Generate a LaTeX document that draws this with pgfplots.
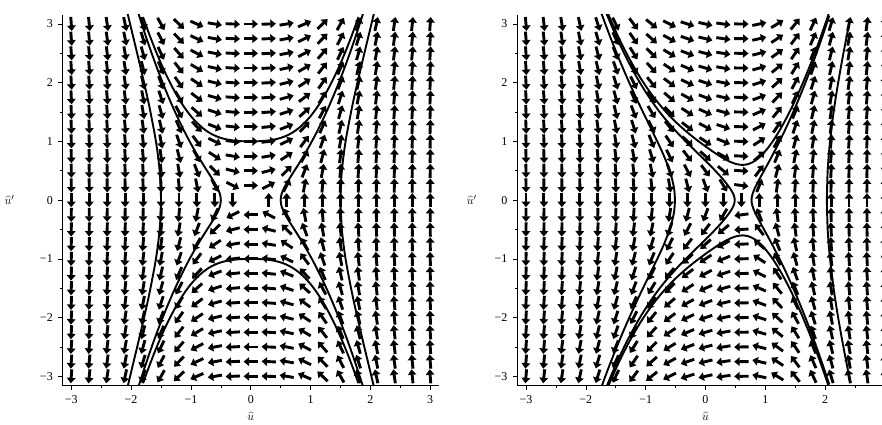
\documentclass[border=0pt]{standalone}
\usepackage{pgfplots}
\pgfplotsset{compat=1.18}
\usepackage{pgfplotstable}
\usepackage{fontspec}
\setmainfont{Liberation Serif}
\usetikzlibrary{arrows.meta}

% direction field, left panel: grid point (x,y) and slope term F; arrow = (y,F) normalised
\pgfplotstableread[row sep=\\]{
x y F\\
-3 -3 -40.62\\ -3 -2.75 -40.62\\ -3 -2.5 -40.62\\ -3 -2.25 -40.62\\ -3 -2 -40.62\\ -3 -1.75 -40.62\\ -3 -1.5 -40.62\\ -3 -1.25 -40.62\\ -3 -1 -40.62\\ -3 -0.75 -40.62\\ -3 -0.5 -40.62\\ -3 -0.25 -40.62\\ -3 0 -40.62\\ -3 0.25 -40.62\\ -3 0.5 -40.62\\ -3 0.75 -40.62\\ -3 1 -40.62\\ -3 1.25 -40.62\\ -3 1.5 -40.62\\ -3 1.75 -40.62\\ -3 2 -40.62\\ -3 2.25 -40.62\\ -3 2.5 -40.62\\ -3 2.75 -40.62\\ -3 3 -40.62\\
-2.7 -3 -29.77\\ -2.7 -2.75 -29.77\\ -2.7 -2.5 -29.77\\ -2.7 -2.25 -29.77\\ -2.7 -2 -29.77\\ -2.7 -1.75 -29.77\\ -2.7 -1.5 -29.77\\ -2.7 -1.25 -29.77\\ -2.7 -1 -29.77\\ -2.7 -0.75 -29.77\\ -2.7 -0.5 -29.77\\ -2.7 -0.25 -29.77\\ -2.7 0 -29.77\\ -2.7 0.25 -29.77\\ -2.7 0.5 -29.77\\ -2.7 0.75 -29.77\\ -2.7 1 -29.77\\ -2.7 1.25 -29.77\\ -2.7 1.5 -29.77\\ -2.7 1.75 -29.77\\ -2.7 2 -29.77\\ -2.7 2.25 -29.77\\ -2.7 2.5 -29.77\\ -2.7 2.75 -29.77\\ -2.7 3 -29.77\\
-2.4 -3 -21.07\\ -2.4 -2.75 -21.07\\ -2.4 -2.5 -21.07\\ -2.4 -2.25 -21.07\\ -2.4 -2 -21.07\\ -2.4 -1.75 -21.07\\ -2.4 -1.5 -21.07\\ -2.4 -1.25 -21.07\\ -2.4 -1 -21.07\\ -2.4 -0.75 -21.07\\ -2.4 -0.5 -21.07\\ -2.4 -0.25 -21.07\\ -2.4 0 -21.07\\ -2.4 0.25 -21.07\\ -2.4 0.5 -21.07\\ -2.4 0.75 -21.07\\ -2.4 1 -21.07\\ -2.4 1.25 -21.07\\ -2.4 1.5 -21.07\\ -2.4 1.75 -21.07\\ -2.4 2 -21.07\\ -2.4 2.25 -21.07\\ -2.4 2.5 -21.07\\ -2.4 2.75 -21.07\\ -2.4 3 -21.07\\
-2.1 -3 -14.27\\ -2.1 -2.75 -14.27\\ -2.1 -2.5 -14.27\\ -2.1 -2.25 -14.27\\ -2.1 -2 -14.27\\ -2.1 -1.75 -14.27\\ -2.1 -1.5 -14.27\\ -2.1 -1.25 -14.27\\ -2.1 -1 -14.27\\ -2.1 -0.75 -14.27\\ -2.1 -0.5 -14.27\\ -2.1 -0.25 -14.27\\ -2.1 0 -14.27\\ -2.1 0.25 -14.27\\ -2.1 0.5 -14.27\\ -2.1 0.75 -14.27\\ -2.1 1 -14.27\\ -2.1 1.25 -14.27\\ -2.1 1.5 -14.27\\ -2.1 1.75 -14.27\\ -2.1 2 -14.27\\ -2.1 2.25 -14.27\\ -2.1 2.5 -14.27\\ -2.1 2.75 -14.27\\ -2.1 3 -14.27\\
-1.8 -3 -9.13\\ -1.8 -2.75 -9.13\\ -1.8 -2.5 -9.13\\ -1.8 -2.25 -9.13\\ -1.8 -2 -9.13\\ -1.8 -1.75 -9.13\\ -1.8 -1.5 -9.13\\ -1.8 -1.25 -9.13\\ -1.8 -1 -9.13\\ -1.8 -0.75 -9.13\\ -1.8 -0.5 -9.13\\ -1.8 -0.25 -9.13\\ -1.8 0 -9.13\\ -1.8 0.25 -9.13\\ -1.8 0.5 -9.13\\ -1.8 0.75 -9.13\\ -1.8 1 -9.13\\ -1.8 1.25 -9.13\\ -1.8 1.5 -9.13\\ -1.8 1.75 -9.13\\ -1.8 2 -9.13\\ -1.8 2.25 -9.13\\ -1.8 2.5 -9.13\\ -1.8 2.75 -9.13\\ -1.8 3 -9.13\\
-1.5 -3 -5.43\\ -1.5 -2.75 -5.43\\ -1.5 -2.5 -5.43\\ -1.5 -2.25 -5.43\\ -1.5 -2 -5.43\\ -1.5 -1.75 -5.43\\ -1.5 -1.5 -5.43\\ -1.5 -1.25 -5.43\\ -1.5 -1 -5.43\\ -1.5 -0.75 -5.43\\ -1.5 -0.5 -5.43\\ -1.5 -0.25 -5.43\\ -1.5 0 -5.43\\ -1.5 0.25 -5.43\\ -1.5 0.5 -5.43\\ -1.5 0.75 -5.43\\ -1.5 1 -5.43\\ -1.5 1.25 -5.43\\ -1.5 1.5 -5.43\\ -1.5 1.75 -5.43\\ -1.5 2 -5.43\\ -1.5 2.25 -5.43\\ -1.5 2.5 -5.43\\ -1.5 2.75 -5.43\\ -1.5 3 -5.43\\
-1.2 -3 -2.91\\ -1.2 -2.75 -2.91\\ -1.2 -2.5 -2.91\\ -1.2 -2.25 -2.91\\ -1.2 -2 -2.91\\ -1.2 -1.75 -2.91\\ -1.2 -1.5 -2.91\\ -1.2 -1.25 -2.91\\ -1.2 -1 -2.91\\ -1.2 -0.75 -2.91\\ -1.2 -0.5 -2.91\\ -1.2 -0.25 -2.91\\ -1.2 0 -2.91\\ -1.2 0.25 -2.91\\ -1.2 0.5 -2.91\\ -1.2 0.75 -2.91\\ -1.2 1 -2.91\\ -1.2 1.25 -2.91\\ -1.2 1.5 -2.91\\ -1.2 1.75 -2.91\\ -1.2 2 -2.91\\ -1.2 2.25 -2.91\\ -1.2 2.5 -2.91\\ -1.2 2.75 -2.91\\ -1.2 3 -2.91\\
-0.9 -3 -1.35\\ -0.9 -2.75 -1.35\\ -0.9 -2.5 -1.35\\ -0.9 -2.25 -1.35\\ -0.9 -2 -1.35\\ -0.9 -1.75 -1.35\\ -0.9 -1.5 -1.35\\ -0.9 -1.25 -1.35\\ -0.9 -1 -1.35\\ -0.9 -0.75 -1.35\\ -0.9 -0.5 -1.35\\ -0.9 -0.25 -1.35\\ -0.9 0 -1.35\\ -0.9 0.25 -1.35\\ -0.9 0.5 -1.35\\ -0.9 0.75 -1.35\\ -0.9 1 -1.35\\ -0.9 1.25 -1.35\\ -0.9 1.5 -1.35\\ -0.9 1.75 -1.35\\ -0.9 2 -1.35\\ -0.9 2.25 -1.35\\ -0.9 2.5 -1.35\\ -0.9 2.75 -1.35\\ -0.9 3 -1.35\\
-0.6 -3 -0.5\\ -0.6 -2.75 -0.5\\ -0.6 -2.5 -0.5\\ -0.6 -2.25 -0.5\\ -0.6 -2 -0.5\\ -0.6 -1.75 -0.5\\ -0.6 -1.5 -0.5\\ -0.6 -1.25 -0.5\\ -0.6 -1 -0.5\\ -0.6 -0.75 -0.5\\ -0.6 -0.5 -0.5\\ -0.6 -0.25 -0.5\\ -0.6 0 -0.5\\ -0.6 0.25 -0.5\\ -0.6 0.5 -0.5\\ -0.6 0.75 -0.5\\ -0.6 1 -0.5\\ -0.6 1.25 -0.5\\ -0.6 1.5 -0.5\\ -0.6 1.75 -0.5\\ -0.6 2 -0.5\\ -0.6 2.25 -0.5\\ -0.6 2.5 -0.5\\ -0.6 2.75 -0.5\\ -0.6 3 -0.5\\
-0.3 -3 -0.13\\ -0.3 -2.75 -0.13\\ -0.3 -2.5 -0.13\\ -0.3 -2.25 -0.13\\ -0.3 -2 -0.13\\ -0.3 -1.75 -0.13\\ -0.3 -1.5 -0.13\\ -0.3 -1.25 -0.13\\ -0.3 -1 -0.13\\ -0.3 -0.75 -0.13\\ -0.3 -0.5 -0.13\\ -0.3 -0.25 -0.13\\ -0.3 0 -0.13\\ -0.3 0.25 -0.13\\ -0.3 0.5 -0.13\\ -0.3 0.75 -0.13\\ -0.3 1 -0.13\\ -0.3 1.25 -0.13\\ -0.3 1.5 -0.13\\ -0.3 1.75 -0.13\\ -0.3 2 -0.13\\ -0.3 2.25 -0.13\\ -0.3 2.5 -0.13\\ -0.3 2.75 -0.13\\ -0.3 3 -0.13\\
0 -3 0\\ 0 -2.75 0\\ 0 -2.5 0\\ 0 -2.25 0\\ 0 -2 0\\ 0 -1.75 0\\ 0 -1.5 0\\ 0 -1.25 0\\ 0 -1 0\\ 0 -0.75 0\\ 0 -0.5 0\\ 0 -0.25 0\\ 0 0.25 0\\ 0 0.5 0\\ 0 0.75 0\\ 0 1 0\\ 0 1.25 0\\ 0 1.5 0\\ 0 1.75 0\\ 0 2 0\\ 0 2.25 0\\ 0 2.5 0\\ 0 2.75 0\\ 0 3 0\\
0.3 -3 0.13\\ 0.3 -2.75 0.13\\ 0.3 -2.5 0.13\\ 0.3 -2.25 0.13\\ 0.3 -2 0.13\\ 0.3 -1.75 0.13\\ 0.3 -1.5 0.13\\ 0.3 -1.25 0.13\\ 0.3 -1 0.13\\ 0.3 -0.75 0.13\\ 0.3 -0.5 0.13\\ 0.3 -0.25 0.13\\ 0.3 0 0.13\\ 0.3 0.25 0.13\\ 0.3 0.5 0.13\\ 0.3 0.75 0.13\\ 0.3 1 0.13\\ 0.3 1.25 0.13\\ 0.3 1.5 0.13\\ 0.3 1.75 0.13\\ 0.3 2 0.13\\ 0.3 2.25 0.13\\ 0.3 2.5 0.13\\ 0.3 2.75 0.13\\ 0.3 3 0.13\\
0.6 -3 0.5\\ 0.6 -2.75 0.5\\ 0.6 -2.5 0.5\\ 0.6 -2.25 0.5\\ 0.6 -2 0.5\\ 0.6 -1.75 0.5\\ 0.6 -1.5 0.5\\ 0.6 -1.25 0.5\\ 0.6 -1 0.5\\ 0.6 -0.75 0.5\\ 0.6 -0.5 0.5\\ 0.6 -0.25 0.5\\ 0.6 0 0.5\\ 0.6 0.25 0.5\\ 0.6 0.5 0.5\\ 0.6 0.75 0.5\\ 0.6 1 0.5\\ 0.6 1.25 0.5\\ 0.6 1.5 0.5\\ 0.6 1.75 0.5\\ 0.6 2 0.5\\ 0.6 2.25 0.5\\ 0.6 2.5 0.5\\ 0.6 2.75 0.5\\ 0.6 3 0.5\\
0.9 -3 1.35\\ 0.9 -2.75 1.35\\ 0.9 -2.5 1.35\\ 0.9 -2.25 1.35\\ 0.9 -2 1.35\\ 0.9 -1.75 1.35\\ 0.9 -1.5 1.35\\ 0.9 -1.25 1.35\\ 0.9 -1 1.35\\ 0.9 -0.75 1.35\\ 0.9 -0.5 1.35\\ 0.9 -0.25 1.35\\ 0.9 0 1.35\\ 0.9 0.25 1.35\\ 0.9 0.5 1.35\\ 0.9 0.75 1.35\\ 0.9 1 1.35\\ 0.9 1.25 1.35\\ 0.9 1.5 1.35\\ 0.9 1.75 1.35\\ 0.9 2 1.35\\ 0.9 2.25 1.35\\ 0.9 2.5 1.35\\ 0.9 2.75 1.35\\ 0.9 3 1.35\\
1.2 -3 2.91\\ 1.2 -2.75 2.91\\ 1.2 -2.5 2.91\\ 1.2 -2.25 2.91\\ 1.2 -2 2.91\\ 1.2 -1.75 2.91\\ 1.2 -1.5 2.91\\ 1.2 -1.25 2.91\\ 1.2 -1 2.91\\ 1.2 -0.75 2.91\\ 1.2 -0.5 2.91\\ 1.2 -0.25 2.91\\ 1.2 0 2.91\\ 1.2 0.25 2.91\\ 1.2 0.5 2.91\\ 1.2 0.75 2.91\\ 1.2 1 2.91\\ 1.2 1.25 2.91\\ 1.2 1.5 2.91\\ 1.2 1.75 2.91\\ 1.2 2 2.91\\ 1.2 2.25 2.91\\ 1.2 2.5 2.91\\ 1.2 2.75 2.91\\ 1.2 3 2.91\\
1.5 -3 5.43\\ 1.5 -2.75 5.43\\ 1.5 -2.5 5.43\\ 1.5 -2.25 5.43\\ 1.5 -2 5.43\\ 1.5 -1.75 5.43\\ 1.5 -1.5 5.43\\ 1.5 -1.25 5.43\\ 1.5 -1 5.43\\ 1.5 -0.75 5.43\\ 1.5 -0.5 5.43\\ 1.5 -0.25 5.43\\ 1.5 0 5.43\\ 1.5 0.25 5.43\\ 1.5 0.5 5.43\\ 1.5 0.75 5.43\\ 1.5 1 5.43\\ 1.5 1.25 5.43\\ 1.5 1.5 5.43\\ 1.5 1.75 5.43\\ 1.5 2 5.43\\ 1.5 2.25 5.43\\ 1.5 2.5 5.43\\ 1.5 2.75 5.43\\ 1.5 3 5.43\\
1.8 -3 9.13\\ 1.8 -2.75 9.13\\ 1.8 -2.5 9.13\\ 1.8 -2.25 9.13\\ 1.8 -2 9.13\\ 1.8 -1.75 9.13\\ 1.8 -1.5 9.13\\ 1.8 -1.25 9.13\\ 1.8 -1 9.13\\ 1.8 -0.75 9.13\\ 1.8 -0.5 9.13\\ 1.8 -0.25 9.13\\ 1.8 0 9.13\\ 1.8 0.25 9.13\\ 1.8 0.5 9.13\\ 1.8 0.75 9.13\\ 1.8 1 9.13\\ 1.8 1.25 9.13\\ 1.8 1.5 9.13\\ 1.8 1.75 9.13\\ 1.8 2 9.13\\ 1.8 2.25 9.13\\ 1.8 2.5 9.13\\ 1.8 2.75 9.13\\ 1.8 3 9.13\\
2.1 -3 14.27\\ 2.1 -2.75 14.27\\ 2.1 -2.5 14.27\\ 2.1 -2.25 14.27\\ 2.1 -2 14.27\\ 2.1 -1.75 14.27\\ 2.1 -1.5 14.27\\ 2.1 -1.25 14.27\\ 2.1 -1 14.27\\ 2.1 -0.75 14.27\\ 2.1 -0.5 14.27\\ 2.1 -0.25 14.27\\ 2.1 0 14.27\\ 2.1 0.25 14.27\\ 2.1 0.5 14.27\\ 2.1 0.75 14.27\\ 2.1 1 14.27\\ 2.1 1.25 14.27\\ 2.1 1.5 14.27\\ 2.1 1.75 14.27\\ 2.1 2 14.27\\ 2.1 2.25 14.27\\ 2.1 2.5 14.27\\ 2.1 2.75 14.27\\ 2.1 3 14.27\\
2.4 -3 21.07\\ 2.4 -2.75 21.07\\ 2.4 -2.5 21.07\\ 2.4 -2.25 21.07\\ 2.4 -2 21.07\\ 2.4 -1.75 21.07\\ 2.4 -1.5 21.07\\ 2.4 -1.25 21.07\\ 2.4 -1 21.07\\ 2.4 -0.75 21.07\\ 2.4 -0.5 21.07\\ 2.4 -0.25 21.07\\ 2.4 0 21.07\\ 2.4 0.25 21.07\\ 2.4 0.5 21.07\\ 2.4 0.75 21.07\\ 2.4 1 21.07\\ 2.4 1.25 21.07\\ 2.4 1.5 21.07\\ 2.4 1.75 21.07\\ 2.4 2 21.07\\ 2.4 2.25 21.07\\ 2.4 2.5 21.07\\ 2.4 2.75 21.07\\ 2.4 3 21.07\\
2.7 -3 29.77\\ 2.7 -2.75 29.77\\ 2.7 -2.5 29.77\\ 2.7 -2.25 29.77\\ 2.7 -2 29.77\\ 2.7 -1.75 29.77\\ 2.7 -1.5 29.77\\ 2.7 -1.25 29.77\\ 2.7 -1 29.77\\ 2.7 -0.75 29.77\\ 2.7 -0.5 29.77\\ 2.7 -0.25 29.77\\ 2.7 0 29.77\\ 2.7 0.25 29.77\\ 2.7 0.5 29.77\\ 2.7 0.75 29.77\\ 2.7 1 29.77\\ 2.7 1.25 29.77\\ 2.7 1.5 29.77\\ 2.7 1.75 29.77\\ 2.7 2 29.77\\ 2.7 2.25 29.77\\ 2.7 2.5 29.77\\ 2.7 2.75 29.77\\ 2.7 3 29.77\\
3 -3 40.62\\ 3 -2.75 40.62\\ 3 -2.5 40.62\\ 3 -2.25 40.62\\ 3 -2 40.62\\ 3 -1.75 40.62\\ 3 -1.5 40.62\\ 3 -1.25 40.62\\ 3 -1 40.62\\ 3 -0.75 40.62\\ 3 -0.5 40.62\\ 3 -0.25 40.62\\ 3 0 40.62\\ 3 0.25 40.62\\ 3 0.5 40.62\\ 3 0.75 40.62\\ 3 1 40.62\\ 3 1.25 40.62\\ 3 1.5 40.62\\ 3 1.75 40.62\\ 3 2 40.62\\ 3 2.25 40.62\\ 3 2.5 40.62\\ 3 2.75 40.62\\ 3 3 40.62\\
}\fieldL

% direction field, right panel
\pgfplotstableread[row sep=\\]{
x y F\\
-3 -3 -36.42\\ -3 -2.75 -36.42\\ -3 -2.5 -36.42\\ -3 -2.25 -36.42\\ -3 -2 -36.42\\ -3 -1.75 -36.42\\ -3 -1.5 -36.42\\ -3 -1.25 -36.42\\ -3 -1 -36.42\\ -3 -0.75 -36.42\\ -3 -0.5 -36.42\\ -3 -0.25 -36.42\\ -3 0 -36.42\\ -3 0.25 -36.42\\ -3 0.5 -36.42\\ -3 0.75 -36.42\\ -3 1 -36.42\\ -3 1.25 -36.42\\ -3 1.5 -36.42\\ -3 1.75 -36.42\\ -3 2 -36.42\\ -3 2.25 -36.42\\ -3 2.5 -36.42\\ -3 2.75 -36.42\\ -3 3 -36.42\\
-2.7 -3 -27.38\\ -2.7 -2.75 -27.38\\ -2.7 -2.5 -27.38\\ -2.7 -2.25 -27.38\\ -2.7 -2 -27.38\\ -2.7 -1.75 -27.38\\ -2.7 -1.5 -27.38\\ -2.7 -1.25 -27.38\\ -2.7 -1 -27.38\\ -2.7 -0.75 -27.38\\ -2.7 -0.5 -27.38\\ -2.7 -0.25 -27.38\\ -2.7 0 -27.38\\ -2.7 0.25 -27.38\\ -2.7 0.5 -27.38\\ -2.7 0.75 -27.38\\ -2.7 1 -27.38\\ -2.7 1.25 -27.38\\ -2.7 1.5 -27.38\\ -2.7 1.75 -27.38\\ -2.7 2 -27.38\\ -2.7 2.25 -27.38\\ -2.7 2.5 -27.38\\ -2.7 2.75 -27.38\\ -2.7 3 -27.38\\
-2.4 -3 -20.04\\ -2.4 -2.75 -20.04\\ -2.4 -2.5 -20.04\\ -2.4 -2.25 -20.04\\ -2.4 -2 -20.04\\ -2.4 -1.75 -20.04\\ -2.4 -1.5 -20.04\\ -2.4 -1.25 -20.04\\ -2.4 -1 -20.04\\ -2.4 -0.75 -20.04\\ -2.4 -0.5 -20.04\\ -2.4 -0.25 -20.04\\ -2.4 0 -20.04\\ -2.4 0.25 -20.04\\ -2.4 0.5 -20.04\\ -2.4 0.75 -20.04\\ -2.4 1 -20.04\\ -2.4 1.25 -20.04\\ -2.4 1.5 -20.04\\ -2.4 1.75 -20.04\\ -2.4 2 -20.04\\ -2.4 2.25 -20.04\\ -2.4 2.5 -20.04\\ -2.4 2.75 -20.04\\ -2.4 3 -20.04\\
-2.1 -3 -14.22\\ -2.1 -2.75 -14.22\\ -2.1 -2.5 -14.22\\ -2.1 -2.25 -14.22\\ -2.1 -2 -14.22\\ -2.1 -1.75 -14.22\\ -2.1 -1.5 -14.22\\ -2.1 -1.25 -14.22\\ -2.1 -1 -14.22\\ -2.1 -0.75 -14.22\\ -2.1 -0.5 -14.22\\ -2.1 -0.25 -14.22\\ -2.1 0 -14.22\\ -2.1 0.25 -14.22\\ -2.1 0.5 -14.22\\ -2.1 0.75 -14.22\\ -2.1 1 -14.22\\ -2.1 1.25 -14.22\\ -2.1 1.5 -14.22\\ -2.1 1.75 -14.22\\ -2.1 2 -14.22\\ -2.1 2.25 -14.22\\ -2.1 2.5 -14.22\\ -2.1 2.75 -14.22\\ -2.1 3 -14.22\\
-1.8 -3 -9.74\\ -1.8 -2.75 -9.74\\ -1.8 -2.5 -9.74\\ -1.8 -2.25 -9.74\\ -1.8 -2 -9.74\\ -1.8 -1.75 -9.74\\ -1.8 -1.5 -9.74\\ -1.8 -1.25 -9.74\\ -1.8 -1 -9.74\\ -1.8 -0.75 -9.74\\ -1.8 -0.5 -9.74\\ -1.8 -0.25 -9.74\\ -1.8 0 -9.74\\ -1.8 0.25 -9.74\\ -1.8 0.5 -9.74\\ -1.8 0.75 -9.74\\ -1.8 1 -9.74\\ -1.8 1.25 -9.74\\ -1.8 1.5 -9.74\\ -1.8 1.75 -9.74\\ -1.8 2 -9.74\\ -1.8 2.25 -9.74\\ -1.8 2.5 -9.74\\ -1.8 2.75 -9.74\\ -1.8 3 -9.74\\
-1.5 -3 -6.42\\ -1.5 -2.75 -6.42\\ -1.5 -2.5 -6.42\\ -1.5 -2.25 -6.42\\ -1.5 -2 -6.42\\ -1.5 -1.75 -6.42\\ -1.5 -1.5 -6.42\\ -1.5 -1.25 -6.42\\ -1.5 -1 -6.42\\ -1.5 -0.75 -6.42\\ -1.5 -0.5 -6.42\\ -1.5 -0.25 -6.42\\ -1.5 0 -6.42\\ -1.5 0.25 -6.42\\ -1.5 0.5 -6.42\\ -1.5 0.75 -6.42\\ -1.5 1 -6.42\\ -1.5 1.25 -6.42\\ -1.5 1.5 -6.42\\ -1.5 1.75 -6.42\\ -1.5 2 -6.42\\ -1.5 2.25 -6.42\\ -1.5 2.5 -6.42\\ -1.5 2.75 -6.42\\ -1.5 3 -6.42\\
-1.2 -3 -4.06\\ -1.2 -2.75 -4.06\\ -1.2 -2.5 -4.06\\ -1.2 -2.25 -4.06\\ -1.2 -2 -4.06\\ -1.2 -1.75 -4.06\\ -1.2 -1.5 -4.06\\ -1.2 -1.25 -4.06\\ -1.2 -1 -4.06\\ -1.2 -0.75 -4.06\\ -1.2 -0.5 -4.06\\ -1.2 -0.25 -4.06\\ -1.2 0 -4.06\\ -1.2 0.25 -4.06\\ -1.2 0.5 -4.06\\ -1.2 0.75 -4.06\\ -1.2 1 -4.06\\ -1.2 1.25 -4.06\\ -1.2 1.5 -4.06\\ -1.2 1.75 -4.06\\ -1.2 2 -4.06\\ -1.2 2.25 -4.06\\ -1.2 2.5 -4.06\\ -1.2 2.75 -4.06\\ -1.2 3 -4.06\\
-0.9 -3 -2.49\\ -0.9 -2.75 -2.49\\ -0.9 -2.5 -2.49\\ -0.9 -2.25 -2.49\\ -0.9 -2 -2.49\\ -0.9 -1.75 -2.49\\ -0.9 -1.5 -2.49\\ -0.9 -1.25 -2.49\\ -0.9 -1 -2.49\\ -0.9 -0.75 -2.49\\ -0.9 -0.5 -2.49\\ -0.9 -0.25 -2.49\\ -0.9 0 -2.49\\ -0.9 0.25 -2.49\\ -0.9 0.5 -2.49\\ -0.9 0.75 -2.49\\ -0.9 1 -2.49\\ -0.9 1.25 -2.49\\ -0.9 1.5 -2.49\\ -0.9 1.75 -2.49\\ -0.9 2 -2.49\\ -0.9 2.25 -2.49\\ -0.9 2.5 -2.49\\ -0.9 2.75 -2.49\\ -0.9 3 -2.49\\
-0.6 -3 -1.53\\ -0.6 -2.75 -1.53\\ -0.6 -2.5 -1.53\\ -0.6 -2.25 -1.53\\ -0.6 -2 -1.53\\ -0.6 -1.75 -1.53\\ -0.6 -1.5 -1.53\\ -0.6 -1.25 -1.53\\ -0.6 -1 -1.53\\ -0.6 -0.75 -1.53\\ -0.6 -0.5 -1.53\\ -0.6 -0.25 -1.53\\ -0.6 0 -1.53\\ -0.6 0.25 -1.53\\ -0.6 0.5 -1.53\\ -0.6 0.75 -1.53\\ -0.6 1 -1.53\\ -0.6 1.25 -1.53\\ -0.6 1.5 -1.53\\ -0.6 1.75 -1.53\\ -0.6 2 -1.53\\ -0.6 2.25 -1.53\\ -0.6 2.5 -1.53\\ -0.6 2.75 -1.53\\ -0.6 3 -1.53\\
-0.3 -3 -0.98\\ -0.3 -2.75 -0.98\\ -0.3 -2.5 -0.98\\ -0.3 -2.25 -0.98\\ -0.3 -2 -0.98\\ -0.3 -1.75 -0.98\\ -0.3 -1.5 -0.98\\ -0.3 -1.25 -0.98\\ -0.3 -1 -0.98\\ -0.3 -0.75 -0.98\\ -0.3 -0.5 -0.98\\ -0.3 -0.25 -0.98\\ -0.3 0 -0.98\\ -0.3 0.25 -0.98\\ -0.3 0.5 -0.98\\ -0.3 0.75 -0.98\\ -0.3 1 -0.98\\ -0.3 1.25 -0.98\\ -0.3 1.5 -0.98\\ -0.3 1.75 -0.98\\ -0.3 2 -0.98\\ -0.3 2.25 -0.98\\ -0.3 2.5 -0.98\\ -0.3 2.75 -0.98\\ -0.3 3 -0.98\\
0 -3 -0.68\\ 0 -2.75 -0.68\\ 0 -2.5 -0.68\\ 0 -2.25 -0.68\\ 0 -2 -0.68\\ 0 -1.75 -0.68\\ 0 -1.5 -0.68\\ 0 -1.25 -0.68\\ 0 -1 -0.68\\ 0 -0.75 -0.68\\ 0 -0.5 -0.68\\ 0 -0.25 -0.68\\ 0 0 -0.68\\ 0 0.25 -0.68\\ 0 0.5 -0.68\\ 0 0.75 -0.68\\ 0 1 -0.68\\ 0 1.25 -0.68\\ 0 1.5 -0.68\\ 0 1.75 -0.68\\ 0 2 -0.68\\ 0 2.25 -0.68\\ 0 2.5 -0.68\\ 0 2.75 -0.68\\ 0 3 -0.68\\
0.3 -3 -0.42\\ 0.3 -2.75 -0.42\\ 0.3 -2.5 -0.42\\ 0.3 -2.25 -0.42\\ 0.3 -2 -0.42\\ 0.3 -1.75 -0.42\\ 0.3 -1.5 -0.42\\ 0.3 -1.25 -0.42\\ 0.3 -1 -0.42\\ 0.3 -0.75 -0.42\\ 0.3 -0.5 -0.42\\ 0.3 -0.25 -0.42\\ 0.3 0 -0.42\\ 0.3 0.25 -0.42\\ 0.3 0.5 -0.42\\ 0.3 0.75 -0.42\\ 0.3 1 -0.42\\ 0.3 1.25 -0.42\\ 0.3 1.5 -0.42\\ 0.3 1.75 -0.42\\ 0.3 2 -0.42\\ 0.3 2.25 -0.42\\ 0.3 2.5 -0.42\\ 0.3 2.75 -0.42\\ 0.3 3 -0.42\\
0.6 -3 -0.035\\ 0.6 -2.75 -0.035\\ 0.6 -2.5 -0.035\\ 0.6 -2.25 -0.035\\ 0.6 -2 -0.035\\ 0.6 -1.75 -0.035\\ 0.6 -1.5 -0.035\\ 0.6 -1.25 -0.035\\ 0.6 -1 -0.035\\ 0.6 -0.75 -0.035\\ 0.6 -0.5 -0.035\\ 0.6 -0.25 -0.035\\ 0.6 0 -0.035\\ 0.6 0.25 -0.035\\ 0.6 0.5 -0.035\\ 0.6 0.75 -0.035\\ 0.6 1 -0.035\\ 0.6 1.25 -0.035\\ 0.6 1.5 -0.035\\ 0.6 1.75 -0.035\\ 0.6 2 -0.035\\ 0.6 2.25 -0.035\\ 0.6 2.5 -0.035\\ 0.6 2.75 -0.035\\ 0.6 3 -0.035\\
0.9 -3 0.66\\ 0.9 -2.75 0.66\\ 0.9 -2.5 0.66\\ 0.9 -2.25 0.66\\ 0.9 -2 0.66\\ 0.9 -1.75 0.66\\ 0.9 -1.5 0.66\\ 0.9 -1.25 0.66\\ 0.9 -1 0.66\\ 0.9 -0.75 0.66\\ 0.9 -0.5 0.66\\ 0.9 -0.25 0.66\\ 0.9 0 0.66\\ 0.9 0.25 0.66\\ 0.9 0.5 0.66\\ 0.9 0.75 0.66\\ 0.9 1 0.66\\ 0.9 1.25 0.66\\ 0.9 1.5 0.66\\ 0.9 1.75 0.66\\ 0.9 2 0.66\\ 0.9 2.25 0.66\\ 0.9 2.5 0.66\\ 0.9 2.75 0.66\\ 0.9 3 0.66\\
1.2 -3 1.86\\ 1.2 -2.75 1.86\\ 1.2 -2.5 1.86\\ 1.2 -2.25 1.86\\ 1.2 -2 1.86\\ 1.2 -1.75 1.86\\ 1.2 -1.5 1.86\\ 1.2 -1.25 1.86\\ 1.2 -1 1.86\\ 1.2 -0.75 1.86\\ 1.2 -0.5 1.86\\ 1.2 -0.25 1.86\\ 1.2 0 1.86\\ 1.2 0.25 1.86\\ 1.2 0.5 1.86\\ 1.2 0.75 1.86\\ 1.2 1 1.86\\ 1.2 1.25 1.86\\ 1.2 1.5 1.86\\ 1.2 1.75 1.86\\ 1.2 2 1.86\\ 1.2 2.25 1.86\\ 1.2 2.5 1.86\\ 1.2 2.75 1.86\\ 1.2 3 1.86\\
1.5 -3 3.73\\ 1.5 -2.75 3.73\\ 1.5 -2.5 3.73\\ 1.5 -2.25 3.73\\ 1.5 -2 3.73\\ 1.5 -1.75 3.73\\ 1.5 -1.5 3.73\\ 1.5 -1.25 3.73\\ 1.5 -1 3.73\\ 1.5 -0.75 3.73\\ 1.5 -0.5 3.73\\ 1.5 -0.25 3.73\\ 1.5 0 3.73\\ 1.5 0.25 3.73\\ 1.5 0.5 3.73\\ 1.5 0.75 3.73\\ 1.5 1 3.73\\ 1.5 1.25 3.73\\ 1.5 1.5 3.73\\ 1.5 1.75 3.73\\ 1.5 2 3.73\\ 1.5 2.25 3.73\\ 1.5 2.5 3.73\\ 1.5 2.75 3.73\\ 1.5 3 3.73\\
1.8 -3 6.47\\ 1.8 -2.75 6.47\\ 1.8 -2.5 6.47\\ 1.8 -2.25 6.47\\ 1.8 -2 6.47\\ 1.8 -1.75 6.47\\ 1.8 -1.5 6.47\\ 1.8 -1.25 6.47\\ 1.8 -1 6.47\\ 1.8 -0.75 6.47\\ 1.8 -0.5 6.47\\ 1.8 -0.25 6.47\\ 1.8 0 6.47\\ 1.8 0.25 6.47\\ 1.8 0.5 6.47\\ 1.8 0.75 6.47\\ 1.8 1 6.47\\ 1.8 1.25 6.47\\ 1.8 1.5 6.47\\ 1.8 1.75 6.47\\ 1.8 2 6.47\\ 1.8 2.25 6.47\\ 1.8 2.5 6.47\\ 1.8 2.75 6.47\\ 1.8 3 6.47\\
2.1 -3 10.26\\ 2.1 -2.75 10.26\\ 2.1 -2.5 10.26\\ 2.1 -2.25 10.26\\ 2.1 -2 10.26\\ 2.1 -1.75 10.26\\ 2.1 -1.5 10.26\\ 2.1 -1.25 10.26\\ 2.1 -1 10.26\\ 2.1 -0.75 10.26\\ 2.1 -0.5 10.26\\ 2.1 -0.25 10.26\\ 2.1 0 10.26\\ 2.1 0.25 10.26\\ 2.1 0.5 10.26\\ 2.1 0.75 10.26\\ 2.1 1 10.26\\ 2.1 1.25 10.26\\ 2.1 1.5 10.26\\ 2.1 1.75 10.26\\ 2.1 2 10.26\\ 2.1 2.25 10.26\\ 2.1 2.5 10.26\\ 2.1 2.75 10.26\\ 2.1 3 10.26\\
2.4 -3 15.27\\ 2.4 -2.75 15.27\\ 2.4 -2.5 15.27\\ 2.4 -2.25 15.27\\ 2.4 -2 15.27\\ 2.4 -1.75 15.27\\ 2.4 -1.5 15.27\\ 2.4 -1.25 15.27\\ 2.4 -1 15.27\\ 2.4 -0.75 15.27\\ 2.4 -0.5 15.27\\ 2.4 -0.25 15.27\\ 2.4 0 15.27\\ 2.4 0.25 15.27\\ 2.4 0.5 15.27\\ 2.4 0.75 15.27\\ 2.4 1 15.27\\ 2.4 1.25 15.27\\ 2.4 1.5 15.27\\ 2.4 1.75 15.27\\ 2.4 2 15.27\\ 2.4 2.25 15.27\\ 2.4 2.5 15.27\\ 2.4 2.75 15.27\\ 2.4 3 15.27\\
2.7 -3 21.7\\ 2.7 -2.75 21.7\\ 2.7 -2.5 21.7\\ 2.7 -2.25 21.7\\ 2.7 -2 21.7\\ 2.7 -1.75 21.7\\ 2.7 -1.5 21.7\\ 2.7 -1.25 21.7\\ 2.7 -1 21.7\\ 2.7 -0.75 21.7\\ 2.7 -0.5 21.7\\ 2.7 -0.25 21.7\\ 2.7 0 21.7\\ 2.7 0.25 21.7\\ 2.7 0.5 21.7\\ 2.7 0.75 21.7\\ 2.7 1 21.7\\ 2.7 1.25 21.7\\ 2.7 1.5 21.7\\ 2.7 1.75 21.7\\ 2.7 2 21.7\\ 2.7 2.25 21.7\\ 2.7 2.5 21.7\\ 2.7 2.75 21.7\\ 2.7 3 21.7\\
3 -3 29.73\\ 3 -2.75 29.73\\ 3 -2.5 29.73\\ 3 -2.25 29.73\\ 3 -2 29.73\\ 3 -1.75 29.73\\ 3 -1.5 29.73\\ 3 -1.25 29.73\\ 3 -1 29.73\\ 3 -0.75 29.73\\ 3 -0.5 29.73\\ 3 -0.25 29.73\\ 3 0 29.73\\ 3 0.25 29.73\\ 3 0.5 29.73\\ 3 0.75 29.73\\ 3 1 29.73\\ 3 1.25 29.73\\ 3 1.5 29.73\\ 3 1.75 29.73\\ 3 2 29.73\\ 3 2.25 29.73\\ 3 2.5 29.73\\ 3 2.75 29.73\\ 3 3 29.73\\
}\fieldR

\pgfplotsset{
  phase/.style={
    scale only axis, width=376.9pt, height=371.1pt,
    xmin=-3.15, xmax=3.15, ymin=-3.16, ymax=3.16,
    axis x line*=bottom, axis y line*=left,
    axis line style={-, line width=0.7pt},
    xtick={-3,...,3}, ytick={-3,...,3},
    xticklabels={−3,−2,−1,0,1,2,3}, yticklabels={−3,−2,−1,0,1,2,3},
    minor x tick num=1, minor y tick num=1,
    tick align=outside, major tick length=4pt, minor tick length=2.5pt,
    tick style={black, line width=0.6pt},
    tick label style={font=\fontsize{12}{14}\selectfont},
    xticklabel style={yshift=-2pt},
    yticklabel style={xshift=-2pt},
    xlabel={$\widehat{u}$}, ylabel={$\widehat{u}'$},
    label style={font=\fontsize{13}{15}\selectfont},
    xlabel style={at={(axis description cs:0.5,-0.083)}, anchor=center},
    ylabel style={rotate=-90, at={(axis description cs:-0.14,0.5)}, anchor=center},
  },
  field/.style={black, line width=2.9pt, -{Triangle[length=5.5pt,width=8.5pt]},
    quiver={u={\thisrow{y}*0.24/sqrt(\thisrow{y}*\thisrow{y}+\thisrow{F}*\thisrow{F})},
            v={\thisrow{F}*0.24/sqrt(\thisrow{y}*\thisrow{y}+\thisrow{F}*\thisrow{F})}}},
  traj/.style={black, line width=1.9pt, smooth},
}

\begin{document}
\begin{tikzpicture}
\useasboundingbox (0,0) rectangle (882pt,424pt);

\begin{axis}[phase, at={(62.3pt,38.3pt)}, anchor=south west]
\addplot[field] table[
  x expr={\thisrow{x}-0.12*\thisrow{y}/sqrt(\thisrow{y}*\thisrow{y}+\thisrow{F}*\thisrow{F})},
  y expr={\thisrow{y}-0.12*\thisrow{F}/sqrt(\thisrow{y}*\thisrow{y}+\thisrow{F}*\thisrow{F})}] {\fieldL};
% upper and lower curves through (0,1) and (0,-1)
\addplot[traj] coordinates {(-1.8,3.118) (-1.7,2.835) (-1.6,2.571) (-1.5,2.328) (-1.4,2.105) (-1.3,1.904) (-1.2,1.724) (-1.1,1.566) (-1,1.43) (-0.9,1.317) (-0.8,1.225) (-0.7,1.153) (-0.6,1.099) (-0.5,1.06) (-0.4,1.034) (-0.3,1.017) (-0.2,1.007) (-0.1,1.002) (0,1) (0.1,1.002) (0.2,1.007) (0.3,1.017) (0.4,1.034) (0.5,1.06) (0.6,1.099) (0.7,1.153) (0.8,1.225) (0.9,1.317) (1,1.43) (1.1,1.566) (1.2,1.724) (1.3,1.904) (1.4,2.105) (1.5,2.328) (1.6,2.571) (1.7,2.835) (1.8,3.118)};
\addplot[traj] coordinates {(-1.8,-3.118) (-1.7,-2.835) (-1.6,-2.571) (-1.5,-2.328) (-1.4,-2.105) (-1.3,-1.904) (-1.2,-1.724) (-1.1,-1.566) (-1,-1.43) (-0.9,-1.317) (-0.8,-1.225) (-0.7,-1.153) (-0.6,-1.099) (-0.5,-1.06) (-0.4,-1.034) (-0.3,-1.017) (-0.2,-1.007) (-0.1,-1.002) (0,-1) (0.1,-1.002) (0.2,-1.007) (0.3,-1.017) (0.4,-1.034) (0.5,-1.06) (0.6,-1.099) (0.7,-1.153) (0.8,-1.225) (0.9,-1.317) (1,-1.43) (1.1,-1.566) (1.2,-1.724) (1.3,-1.904) (1.4,-2.105) (1.5,-2.328) (1.6,-2.571) (1.7,-2.835) (1.8,-3.118)};
% curves through (0.5,0) and (-0.5,0)
\addplot[traj] coordinates {(1.9,-3.252) (1.8,-2.932) (1.7,-2.629) (1.6,-2.342) (1.5,-2.072) (1.4,-1.819) (1.3,-1.581) (1.2,-1.359) (1.1,-1.152) (1,-0.96) (0.9,-0.781) (0.8,-0.613) (0.7,-0.453) (0.6,-0.289) (0.55,-0.194) (0.52,-0.119) (0.51,-0.083) (0.5,0) (0.51,0.083) (0.52,0.119) (0.55,0.194) (0.6,0.289) (0.7,0.453) (0.8,0.613) (0.9,0.781) (1,0.96) (1.1,1.152) (1.2,1.359) (1.3,1.581) (1.4,1.819) (1.5,2.072) (1.6,2.342) (1.7,2.629) (1.8,2.932) (1.9,3.252)};
\addplot[traj] coordinates {(-1.9,-3.252) (-1.8,-2.932) (-1.7,-2.629) (-1.6,-2.342) (-1.5,-2.072) (-1.4,-1.819) (-1.3,-1.581) (-1.2,-1.359) (-1.1,-1.152) (-1,-0.96) (-0.9,-0.781) (-0.8,-0.613) (-0.7,-0.453) (-0.6,-0.289) (-0.55,-0.194) (-0.52,-0.119) (-0.51,-0.083) (-0.5,0) (-0.51,0.083) (-0.52,0.119) (-0.55,0.194) (-0.6,0.289) (-0.7,0.453) (-0.8,0.613) (-0.9,0.781) (-1,0.96) (-1.1,1.152) (-1.2,1.359) (-1.3,1.581) (-1.4,1.819) (-1.5,2.072) (-1.6,2.342) (-1.7,2.629) (-1.8,2.932) (-1.9,3.252)};
% outer curves through (1.5,0) and (-1.5,0)
\addplot[traj] coordinates {(2.1,-3.353) (2,-2.929) (1.9,-2.506) (1.8,-2.074) (1.7,-1.618) (1.6,-1.092) (1.55,-0.754) (1.52,-0.47) (1.51,-0.331) (1.5,0) (1.51,0.331) (1.52,0.47) (1.55,0.754) (1.6,1.092) (1.7,1.618) (1.8,2.074) (1.9,2.506) (2,2.929) (2.1,3.353)};
\addplot[traj] coordinates {(-2.1,-3.353) (-2,-2.929) (-1.9,-2.506) (-1.8,-2.074) (-1.7,-1.618) (-1.6,-1.092) (-1.55,-0.754) (-1.52,-0.47) (-1.51,-0.331) (-1.5,0) (-1.51,0.331) (-1.52,0.47) (-1.55,0.754) (-1.6,1.092) (-1.7,1.618) (-1.8,2.074) (-1.9,2.506) (-2,2.929) (-2.1,3.353)};
\end{axis}

\begin{axis}[phase, at={(517pt,38.3pt)}, anchor=south west,
  ylabel style={at={(axis description cs:-0.12,0.5)}}]
\addplot[field] table[
  x expr={\thisrow{x}-0.12*\thisrow{y}/sqrt(\thisrow{y}*\thisrow{y}+\thisrow{F}*\thisrow{F})},
  y expr={\thisrow{y}-0.12*\thisrow{F}/sqrt(\thisrow{y}*\thisrow{y}+\thisrow{F}*\thisrow{F})}] {\fieldR};
% curves with vertex (0.62,0.6) and (0.62,-0.6)
\addplot[traj] coordinates {(-1.68,3.303) (-1.58,3.06) (-1.48,2.832) (-1.38,2.62) (-1.28,2.423) (-1.18,2.24) (-1.08,2.071) (-0.98,1.916) (-0.88,1.774) (-0.78,1.644) (-0.68,1.525) (-0.58,1.416) (-0.48,1.315) (-0.38,1.222) (-0.28,1.135) (-0.18,1.053) (-0.08,0.976) (0.02,0.901) (0.12,0.83) (0.22,0.762) (0.32,0.701) (0.42,0.65) (0.52,0.614) (0.62,0.6) (0.72,0.616) (0.82,0.665) (0.92,0.746) (1.02,0.858) (1.12,0.995) (1.22,1.154) (1.32,1.334) (1.42,1.531) (1.52,1.746) (1.62,1.976) (1.72,2.223) (1.82,2.484) (1.92,2.761) (2.02,3.053) (2.07,3.205)};
\addplot[traj] coordinates {(-1.68,-3.303) (-1.58,-3.06) (-1.48,-2.832) (-1.38,-2.62) (-1.28,-2.423) (-1.18,-2.24) (-1.08,-2.071) (-0.98,-1.916) (-0.88,-1.774) (-0.78,-1.644) (-0.68,-1.525) (-0.58,-1.416) (-0.48,-1.315) (-0.38,-1.222) (-0.28,-1.135) (-0.18,-1.053) (-0.08,-0.976) (0.02,-0.901) (0.12,-0.83) (0.22,-0.762) (0.32,-0.701) (0.42,-0.65) (0.52,-0.614) (0.62,-0.6) (0.72,-0.616) (0.82,-0.665) (0.92,-0.746) (1.02,-0.858) (1.12,-0.995) (1.22,-1.154) (1.32,-1.334) (1.42,-1.531) (1.52,-1.746) (1.62,-1.976) (1.72,-2.223) (1.82,-2.484) (1.92,-2.761) (2.02,-3.053) (2.07,-3.205)};
% inner curves through (0.49,0) and (0.77,0)
\addplot[traj] coordinates {(-1.68,-3.244) (-1.58,-2.996) (-1.48,-2.763) (-1.38,-2.545) (-1.28,-2.341) (-1.18,-2.151) (-1.08,-1.975) (-0.98,-1.812) (-0.88,-1.661) (-0.78,-1.521) (-0.68,-1.392) (-0.58,-1.272) (-0.48,-1.159) (-0.38,-1.052) (-0.28,-0.95) (-0.18,-0.85) (-0.08,-0.751) (0.02,-0.651) (0.12,-0.548) (0.22,-0.44) (0.32,-0.323) (0.42,-0.186) (0.47,-0.093) (0.48,-0.065) (0.49,0) (0.48,0.065) (0.47,0.093) (0.42,0.186) (0.32,0.323) (0.22,0.44) (0.12,0.548) (0.02,0.651) (-0.08,0.751) (-0.18,0.85) (-0.28,0.95) (-0.38,1.052) (-0.48,1.159) (-0.58,1.272) (-0.68,1.392) (-0.78,1.521) (-0.88,1.661) (-0.98,1.812) (-1.08,1.975) (-1.18,2.151) (-1.28,2.341) (-1.38,2.545) (-1.48,2.763) (-1.58,2.996) (-1.68,3.244)};
\addplot[traj] coordinates {(2.07,-3.141) (2.02,-2.986) (1.92,-2.687) (1.82,-2.402) (1.72,-2.13) (1.62,-1.871) (1.52,-1.626) (1.42,-1.393) (1.32,-1.172) (1.22,-0.963) (1.12,-0.765) (1.02,-0.576) (0.92,-0.391) (0.82,-0.193) (0.78,-0.08) (0.77,0) (0.78,0.08) (0.82,0.193) (0.92,0.391) (1.02,0.576) (1.12,0.765) (1.22,0.963) (1.32,1.172) (1.42,1.393) (1.52,1.626) (1.62,1.871) (1.72,2.13) (1.82,2.402) (1.92,2.687) (2.02,2.986) (2.07,3.141)};
% outer curves through (-0.51,0) and (2.03,0)
\addplot[traj] coordinates {(-1.78,-3.298) (-1.68,-3.017) (-1.58,-2.749) (-1.48,-2.493) (-1.38,-2.249) (-1.28,-2.015) (-1.18,-1.791) (-1.08,-1.575) (-0.98,-1.365) (-0.88,-1.157) (-0.78,-0.946) (-0.68,-0.719) (-0.58,-0.443) (-0.53,-0.232) (-0.52,-0.164) (-0.51,0) (-0.52,0.164) (-0.53,0.232) (-0.58,0.443) (-0.68,0.719) (-0.78,0.946) (-0.88,1.157) (-0.98,1.365) (-1.08,1.575) (-1.18,1.791) (-1.28,2.015) (-1.38,2.249) (-1.48,2.493) (-1.58,2.749) (-1.68,3.017) (-1.78,3.298)};
\addplot[traj] coordinates {(2.42,-3.095) (2.37,-2.839) (2.32,-2.576) (2.27,-2.302) (2.22,-2.011) (2.17,-1.696) (2.12,-1.335) (2.07,-0.874) (2.05,-0.613) (2.04,-0.432) (2.03,0) (2.04,0.432) (2.05,0.613) (2.07,0.874) (2.12,1.335) (2.17,1.696) (2.22,2.011) (2.27,2.302) (2.32,2.576) (2.37,2.839) (2.42,3.095)};
\end{axis}
\end{tikzpicture}
\end{document}
